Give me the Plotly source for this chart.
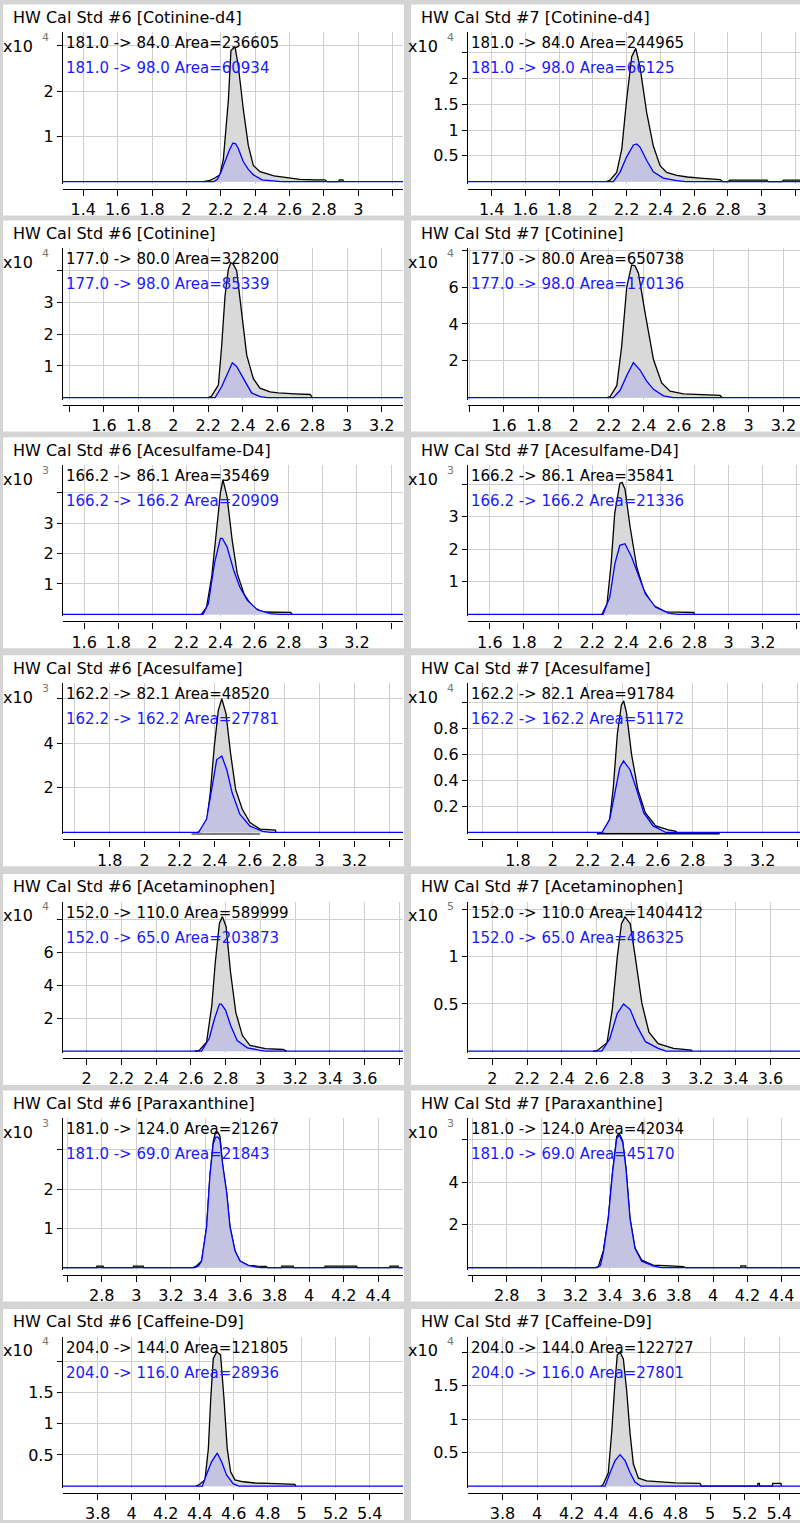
import plotly.graph_objects as go

# ---------------- data (times in min, intensities in displayed units) ----------------
titles = [
    "HW Cal Std #6 [Cotinine-d4]", "HW Cal Std #7 [Cotinine-d4]",
    "HW Cal Std #6 [Cotinine]", "HW Cal Std #7 [Cotinine]",
    "HW Cal Std #6 [Acesulfame-D4]", "HW Cal Std #7 [Acesulfame-D4]",
    "HW Cal Std #6 [Acesulfame]", "HW Cal Std #7 [Acesulfame]",
    "HW Cal Std #6 [Acetaminophen]", "HW Cal Std #7 [Acetaminophen]",
    "HW Cal Std #6 [Paraxanthine]", "HW Cal Std #7 [Paraxanthine]",
    "HW Cal Std #6 [Caffeine-D9]", "HW Cal Std #7 [Caffeine-D9]",
]
labels_black = [
    "181.0 -> 84.0 Area=236605", "181.0 -> 84.0 Area=244965",
    "177.0 -> 80.0 Area=328200", "177.0 -> 80.0 Area=650738",
    "166.2 -> 86.1 Area=35469", "166.2 -> 86.1 Area=35841",
    "162.2 -> 82.1 Area=48520", "162.2 -> 82.1 Area=91784",
    "152.0 -> 110.0 Area=589999", "152.0 -> 110.0 Area=1404412",
    "181.0 -> 124.0 Area=21267", "181.0 -> 124.0 Area=42034",
    "204.0 -> 144.0 Area=121805", "204.0 -> 144.0 Area=122727",
]
labels_blue = [
    "181.0 -> 98.0 Area=60934", "181.0 -> 98.0 Area=66125",
    "177.0 -> 98.0 Area=85339", "177.0 -> 98.0 Area=170136",
    "166.2 -> 166.2 Area=20909", "166.2 -> 166.2 Area=21336",
    "162.2 -> 162.2 Area=27781", "162.2 -> 162.2 Area=51172",
    "152.0 -> 65.0 Area=203873", "152.0 -> 65.0 Area=486325",
    "181.0 -> 69.0 Area=21843", "181.0 -> 69.0 Area=45170",
    "204.0 -> 116.0 Area=28936", "204.0 -> 116.0 Area=27801",
]
exponents = [4, 4, 4, 4, 3, 3, 3, 4, 4, 5, 3, 3, 4, 4]

x_ranges = [
    [1.282, 3.26], [1.26, 3.227],
    [1.364, 3.322], [1.394, 3.295],
    [1.476, 3.47], [1.472, 3.418],
    [1.533, 3.477], [1.515, 3.413],
    [1.864, 3.82], [1.86, 3.77],
    [2.576, 4.543], [2.575, 4.506],
    [3.596, 5.596], [3.601, 5.52],
]
x_ticks = [
    [1.4, 1.6, 1.8, 2.0, 2.2, 2.4, 2.6, 2.8, 3.0, 3.2], [1.4, 1.6, 1.8, 2.0, 2.2, 2.4, 2.6, 2.8, 3.0, 3.2],
    [1.4, 1.6, 1.8, 2.0, 2.2, 2.4, 2.6, 2.8, 3.0, 3.2], [1.4, 1.6, 1.8, 2.0, 2.2, 2.4, 2.6, 2.8, 3.0, 3.2],
    [1.6, 1.8, 2.0, 2.2, 2.4, 2.6, 2.8, 3.0, 3.2, 3.4], [1.6, 1.8, 2.0, 2.2, 2.4, 2.6, 2.8, 3.0, 3.2, 3.4],
    [1.6, 1.8, 2.0, 2.2, 2.4, 2.6, 2.8, 3.0, 3.2, 3.4], [1.6, 1.8, 2.0, 2.2, 2.4, 2.6, 2.8, 3.0, 3.2, 3.4],
    [2.0, 2.2, 2.4, 2.6, 2.8, 3.0, 3.2, 3.4, 3.6, 3.8], [2.0, 2.2, 2.4, 2.6, 2.8, 3.0, 3.2, 3.4, 3.6],
    [2.6, 2.8, 3.0, 3.2, 3.4, 3.6, 3.8, 4.0, 4.2, 4.4], [2.6, 2.8, 3.0, 3.2, 3.4, 3.6, 3.8, 4.0, 4.2, 4.4],
    [3.8, 4.0, 4.2, 4.4, 4.6, 4.8, 5.0, 5.2, 5.4], [3.8, 4.0, 4.2, 4.4, 4.6, 4.8, 5.0, 5.2, 5.4],
]
x_labeled = [
    [1.4, 1.6, 1.8, 2.0, 2.2, 2.4, 2.6, 2.8, 3.0], [1.4, 1.6, 1.8, 2.0, 2.2, 2.4, 2.6, 2.8, 3.0],
    [1.6, 1.8, 2.0, 2.2, 2.4, 2.6, 2.8, 3.0, 3.2], [1.6, 1.8, 2.0, 2.2, 2.4, 2.6, 2.8, 3.0, 3.2],
    [1.6, 1.8, 2.0, 2.2, 2.4, 2.6, 2.8, 3.0, 3.2], [1.6, 1.8, 2.0, 2.2, 2.4, 2.6, 2.8, 3.0, 3.2],
    [1.8, 2.0, 2.2, 2.4, 2.6, 2.8, 3.0, 3.2], [1.8, 2.0, 2.2, 2.4, 2.6, 2.8, 3.0, 3.2],
    [2.0, 2.2, 2.4, 2.6, 2.8, 3.0, 3.2, 3.4, 3.6], [2.0, 2.2, 2.4, 2.6, 2.8, 3.0, 3.2, 3.4, 3.6],
    [2.8, 3.0, 3.2, 3.4, 3.6, 3.8, 4.0, 4.2, 4.4], [2.8, 3.0, 3.2, 3.4, 3.6, 3.8, 4.0, 4.2, 4.4],
    [3.8, 4.0, 4.2, 4.4, 4.6, 4.8, 5.0, 5.2, 5.4], [3.8, 4.0, 4.2, 4.4, 4.6, 4.8, 5.0, 5.2, 5.4],
]
y_max = [3.3, 2.89, 4.7, 8.1, 4.9, 4.58, 6.7, 1.147, 9.1, 1.58, 3.8, 6.98, 2.39, 2.23]
y_ticks = [
    [1, 2, 3], [0.5, 1, 1.5, 2, 2.5],
    [1, 2, 3, 4], [2, 4, 6, 8],
    [1, 2, 3, 4], [1, 2, 3, 4],
    [2, 4, 6], [0.2, 0.4, 0.6, 0.8, 1.0],
    [2, 4, 6, 8], [0.5, 1, 1.5],
    [1, 2, 3], [2, 4, 6],
    [0.5, 1, 1.5, 2], [0.5, 1, 1.5, 2],
]
y_labeled = [
    [1, 2], [0.5, 1, 1.5, 2],
    [1, 2, 3], [2, 4, 6],
    [1, 2, 3], [1, 2, 3],
    [2, 4], [0.2, 0.4, 0.6, 0.8],
    [2, 4, 6], [0.5, 1],
    [1, 2], [2, 4],
    [0.5, 1, 1.5], [0.5, 1, 1.5],
]

# Cotinine-d4 #6
cotd4_6_black_t = [2.10, 2.137, 2.165, 2.195, 2.215, 2.244, 2.259, 2.283, 2.302, 2.331, 2.36, 2.389, 2.428, 2.467, 2.51, 2.564, 2.61, 2.66, 2.75, 2.806, 2.82, 2.885, 2.89, 2.91, 2.915]
cotd4_6_black_y = [0, 0.03, 0.08, 0.15, 0.5, 1.8, 2.9, 2.98, 2.55, 1.6, 0.8, 0.36, 0.22, 0.17, 0.13, 0.1, 0.07, 0.05, 0.04, 0.04, 0, 0, 0.04, 0.04, 0]
cotd4_6_blue_t = [1.28, 2.16, 2.18, 2.20, 2.22, 2.25, 2.27, 2.285, 2.30, 2.33, 2.36, 2.39, 2.44, 2.50, 2.55, 3.26]
cotd4_6_blue_y = [0, 0, 0.05, 0.2, 0.4, 0.7, 0.85, 0.84, 0.75, 0.45, 0.27, 0.15, 0.04, 0.01, 0, 0]
# Cotinine-d4 #7
cotd4_7_black_t = [2.08, 2.101, 2.141, 2.171, 2.20, 2.23, 2.254, 2.279, 2.319, 2.358, 2.398, 2.437, 2.497, 2.56, 2.635, 2.70, 2.753, 2.77, 2.80, 2.81, 3.03, 3.04, 3.12, 3.13, 3.23]
cotd4_7_black_y = [0, 0.03, 0.18, 0.63, 1.59, 2.42, 2.58, 2.22, 1.33, 0.69, 0.31, 0.18, 0.12, 0.09, 0.07, 0.05, 0.04, 0, 0, 0.03, 0.03, 0, 0, 0.03, 0.03]
cotd4_7_blue_t = [1.26, 2.121, 2.16, 2.20, 2.24, 2.26, 2.279, 2.319, 2.358, 2.417, 2.497, 2.55, 3.23]
cotd4_7_blue_y = [0, 0, 0.18, 0.48, 0.71, 0.73, 0.67, 0.41, 0.19, 0.07, 0.02, 0, 0]
# Cotinine #6
cot_6_black_t = [2.20, 2.22, 2.259, 2.278, 2.297, 2.316, 2.33, 2.345, 2.364, 2.393, 2.422, 2.46, 2.498, 2.556, 2.604, 2.70, 2.787, 2.80]
cot_6_black_y = [0, 0.05, 0.4, 1.65, 3.2, 4.04, 4.25, 4.2, 4.0, 2.7, 1.34, 0.6, 0.3, 0.18, 0.15, 0.12, 0.1, 0]
cot_6_blue_t = [1.36, 2.24, 2.278, 2.316, 2.339, 2.364, 2.402, 2.45, 2.50, 2.54, 3.33]
cot_6_blue_y = [0, 0, 0.35, 0.8, 1.1, 0.98, 0.6, 0.15, 0.03, 0, 0]
# Cotinine #7
cot_7_black_t = [2.19, 2.207, 2.246, 2.274, 2.303, 2.331, 2.35, 2.37, 2.408, 2.456, 2.503, 2.551, 2.627, 2.75, 2.837, 2.85]
cot_7_black_y = [0, 0.05, 0.65, 2.8, 6.0, 7.2, 7.15, 6.75, 4.6, 2.07, 0.8, 0.35, 0.2, 0.15, 0.12, 0]
cot_7_blue_t = [1.39, 2.226, 2.265, 2.303, 2.341, 2.379, 2.417, 2.456, 2.513, 2.57, 3.30]
cot_7_blue_y = [0, 0, 0.4, 1.2, 1.9, 1.5, 0.9, 0.45, 0.1, 0, 0]
# Acesulfame-D4 #6
acsd4_6_black_t = [2.288, 2.318, 2.348, 2.378, 2.399, 2.414, 2.438, 2.468, 2.498, 2.537, 2.588, 2.648, 2.75, 2.812, 2.82]
acsd4_6_black_y = [0, 0.24, 1.23, 2.77, 3.98, 4.42, 3.87, 2.44, 1.34, 0.68, 0.24, 0.08, 0.07, 0.07, 0]
acsd4_6_blue_t = [1.47, 2.297, 2.328, 2.364, 2.399, 2.41, 2.438, 2.477, 2.513, 2.557, 2.618, 2.692, 2.75, 3.48]
acsd4_6_blue_y = [0, 0, 0.35, 1.67, 2.5, 2.5, 2.22, 1.45, 0.9, 0.46, 0.15, 0.03, 0, 0]
# Acesulfame-D4 #7
acsd4_7_black_t = [2.257, 2.287, 2.311, 2.332, 2.362, 2.375, 2.392, 2.422, 2.461, 2.503, 2.557, 2.631, 2.70, 2.796, 2.80]
acsd4_7_black_y = [0, 0.33, 1.56, 3.1, 4.02, 4.05, 3.85, 2.69, 1.46, 0.74, 0.28, 0.08, 0.07, 0.06, 0]
acsd4_7_blue_t = [1.47, 2.263, 2.303, 2.333, 2.362, 2.392, 2.431, 2.467, 2.512, 2.572, 2.647, 2.70, 3.45]
acsd4_7_blue_y = [0, 0, 0.53, 1.56, 2.12, 2.17, 1.76, 1.25, 0.63, 0.22, 0.04, 0, 0]
# Acesulfame #6
acs_6_black_t = [2.30, 2.325, 2.354, 2.375, 2.398, 2.421, 2.441, 2.465, 2.491, 2.52, 2.558, 2.602, 2.66, 2.748, 2.75]
acs_6_black_y = [0, 0.05, 0.44, 1.78, 3.85, 5.48, 6.0, 5.33, 3.56, 1.93, 1.04, 0.44, 0.15, 0.1, 0]
acs_6_blue_t = [1.53, 2.308, 2.354, 2.383, 2.412, 2.441, 2.47, 2.5, 2.544, 2.602, 2.675, 2.72, 3.48]
acs_6_blue_y = [0, 0, 0.6, 1.94, 3.27, 3.43, 2.8, 1.78, 0.82, 0.28, 0.05, 0, 0]
acs_6_base_t = [2.268, 2.66]
acs_6_base_y = [-0.1, -0.1]
# Acesulfame #7
acs_7_black_t = [2.28, 2.296, 2.325, 2.346, 2.369, 2.392, 2.405, 2.421, 2.45, 2.486, 2.529, 2.588, 2.661, 2.70, 2.71]
acs_7_black_y = [0, 0.005, 0.1, 0.35, 0.76, 0.98, 1.01, 0.92, 0.6, 0.33, 0.15, 0.05, 0.02, 0.01, 0]
acs_7_blue_t = [1.51, 2.281, 2.325, 2.354, 2.383, 2.404, 2.442, 2.479, 2.52, 2.573, 2.646, 3.45]
acs_7_blue_y = [0, 0, 0.1, 0.3, 0.5, 0.55, 0.48, 0.33, 0.15, 0.05, 0, 0]
acs_7_base_t = [2.252, 2.954]
acs_7_base_y = [-0.012, -0.012]
# Acetaminophen #6
apap_6_black_t = [2.62, 2.646, 2.69, 2.72, 2.74, 2.764, 2.781, 2.802, 2.828, 2.858, 2.896, 2.94, 3.028, 3.131, 3.15]
apap_6_black_y = [0, 0.03, 0.55, 2.77, 5.4, 7.8, 8.2, 7.6, 4.8, 2.36, 0.95, 0.35, 0.15, 0.1, 0]
apap_6_blue_t = [1.86, 2.661, 2.705, 2.735, 2.764, 2.775, 2.799, 2.829, 2.866, 2.925, 2.999, 3.03, 3.82]
apap_6_blue_y = [0, 0, 0.77, 1.96, 2.87, 2.87, 2.5, 1.55, 0.65, 0.2, 0.05, 0, 0]
# Acetaminophen #7
apap_7_black_t = [2.58, 2.602, 2.66, 2.69, 2.719, 2.743, 2.763, 2.793, 2.822, 2.86, 2.901, 2.954, 3.042, 3.145, 3.15]
apap_7_black_y = [0, 0.005, 0.09, 0.44, 1.0, 1.35, 1.42, 1.35, 1.0, 0.51, 0.2, 0.08, 0.03, 0.01, 0]
apap_7_blue_t = [1.86, 2.63, 2.675, 2.719, 2.755, 2.793, 2.831, 2.881, 2.954, 3.0, 3.8]
apap_7_blue_y = [0, 0, 0.13, 0.4, 0.5, 0.44, 0.27, 0.1, 0.03, 0, 0]
# Paraxanthine #6
para_6_black_t = [2.576, 2.77, 2.772, 2.808, 2.81, 2.982, 2.984, 3.04, 3.042, 3.33, 3.349, 3.378, 3.407, 3.426, 3.445, 3.458, 3.472, 3.484, 3.5, 3.523, 3.542, 3.571, 3.6, 3.648, 3.70, 3.75, 3.76, 3.84, 3.842, 3.908, 3.91, 4.09, 4.092, 4.275, 4.277, 4.466, 4.468, 4.515, 4.517, 4.54]
para_6_black_y = [0, 0, 0.04, 0.04, 0, 0, 0.04, 0.04, 0, 0, 0.05, 0.17, 1.04, 2.34, 3.2, 3.45, 3.45, 3.35, 2.6, 1.9, 1.04, 0.43, 0.17, 0.06, 0.04, 0.03, 0, 0, 0.04, 0.04, 0, 0, 0.04, 0.04, 0, 0, 0.04, 0.04, 0, 0]
para_6_blue_t = [2.576, 3.34, 3.36, 3.378, 3.407, 3.426, 3.445, 3.458, 3.472, 3.484, 3.5, 3.523, 3.542, 3.571, 3.6, 3.648, 3.69, 3.72, 4.54]
para_6_blue_y = [0, 0, 0.05, 0.17, 1.04, 2.34, 3.15, 3.32, 3.32, 3.25, 2.6, 1.9, 1.04, 0.43, 0.17, 0.06, 0.02, 0, 0]
# Paraxanthine #7
para_7_black_t = [2.575, 3.315, 3.333, 3.362, 3.391, 3.416, 3.44, 3.455, 3.475, 3.494, 3.517, 3.546, 3.585, 3.652, 3.75, 3.827, 3.84, 4.16, 4.162, 4.19, 4.192, 4.54]
para_7_black_y = [0, 0, 0.05, 0.78, 2.33, 4.5, 6.13, 6.3, 5.9, 4.65, 2.33, 0.93, 0.35, 0.12, 0.08, 0.05, 0, 0, 0.08, 0.08, 0, 0]
para_7_blue_t = [2.575, 3.325, 3.345, 3.362, 3.391, 3.416, 3.44, 3.455, 3.475, 3.494, 3.517, 3.546, 3.585, 3.652, 3.70, 4.54]
para_7_blue_y = [0, 0, 0.1, 0.7, 2.3, 4.45, 6.05, 6.2, 5.85, 4.6, 2.3, 0.9, 0.3, 0.08, 0, 0]
# Caffeine-D9 #6
caf_6_black_t = [4.38, 4.40, 4.431, 4.451, 4.465, 4.48, 4.50, 4.523, 4.543, 4.562, 4.582, 4.607, 4.656, 4.725, 4.85, 4.96, 4.965]
caf_6_black_y = [0, 0.03, 0.1, 0.6, 1.4, 2.04, 2.15, 2.1, 1.4, 0.6, 0.23, 0.1, 0.07, 0.05, 0.04, 0.03, 0]
caf_6_blue_t = [3.59, 4.416, 4.439, 4.47, 4.503, 4.529, 4.558, 4.597, 4.63, 5.6]
caf_6_blue_y = [0, 0, 0.18, 0.39, 0.53, 0.39, 0.18, 0.04, 0, 0]
# Caffeine-D9 #7
caf_7_black_t = [4.37, 4.383, 4.412, 4.432, 4.451, 4.464, 4.48, 4.499, 4.518, 4.538, 4.557, 4.586, 4.634, 4.692, 4.8, 4.942, 4.95, 5.275, 5.277, 5.285, 5.287, 5.36, 5.362, 5.41, 5.412]
caf_7_black_y = [0, 0.03, 0.2, 0.82, 1.57, 1.96, 2.0, 1.9, 1.43, 0.78, 0.33, 0.12, 0.08, 0.07, 0.05, 0.04, 0, 0, 0.04, 0.04, 0, 0, 0.04, 0.04, 0]
caf_7_blue_t = [3.6, 4.393, 4.422, 4.451, 4.48, 4.509, 4.538, 4.566, 4.60, 5.6]
caf_7_blue_y = [0, 0, 0.2, 0.38, 0.47, 0.38, 0.2, 0.06, 0, 0]

black_series = [
    (cotd4_6_black_t, cotd4_6_black_y), (cotd4_7_black_t, cotd4_7_black_y),
    (cot_6_black_t, cot_6_black_y), (cot_7_black_t, cot_7_black_y),
    (acsd4_6_black_t, acsd4_6_black_y), (acsd4_7_black_t, acsd4_7_black_y),
    (acs_6_black_t, acs_6_black_y), (acs_7_black_t, acs_7_black_y),
    (apap_6_black_t, apap_6_black_y), (apap_7_black_t, apap_7_black_y),
    (para_6_black_t, para_6_black_y), (para_7_black_t, para_7_black_y),
    (caf_6_black_t, caf_6_black_y), (caf_7_black_t, caf_7_black_y),
]
blue_series = [
    (cotd4_6_blue_t, cotd4_6_blue_y), (cotd4_7_blue_t, cotd4_7_blue_y),
    (cot_6_blue_t, cot_6_blue_y), (cot_7_blue_t, cot_7_blue_y),
    (acsd4_6_blue_t, acsd4_6_blue_y), (acsd4_7_blue_t, acsd4_7_blue_y),
    (acs_6_blue_t, acs_6_blue_y), (acs_7_blue_t, acs_7_blue_y),
    (apap_6_blue_t, apap_6_blue_y), (apap_7_blue_t, apap_7_blue_y),
    (para_6_blue_t, para_6_blue_y), (para_7_blue_t, para_7_blue_y),
    (caf_6_blue_t, caf_6_blue_y), (caf_7_blue_t, caf_7_blue_y),
]
base_series = {6: (acs_6_base_t, acs_6_base_y), 7: (acs_7_base_t, acs_7_base_y)}

# ---------------- layout geometry (pixels) ----------------
W, H = 800, 1523
baselines = [182.5, 399.5, 617.3, 836.3, 1056.0, 1273.5, 1493.0]
plot_h = 150
col_axis_x = [63, 468]
col_plot_right = [403, 800]
col_panel = [(3, 404), (411, 800)]
FONT = "DejaVu Sans"
GRID = "#cfcfcf"
BG = "#d4d4d4"


def px(x):
    return x / W


def py(y):
    return 1 - y / H


def fmt(v):
    return f"{v:g}"


fig = go.Figure()
annotations = []
shapes = []
layout_axes = {}

for i in range(14):
    row, col = divmod(i, 2)
    b = baselines[row]
    n = i + 1
    xname = "x" if n == 1 else f"x{n}"
    yname = "y" if n == 1 else f"y{n}"
    xkey = "xaxis" if n == 1 else f"xaxis{n}"
    ykey = "yaxis" if n == 1 else f"yaxis{n}"

    # white panel background
    x0p, x1p = col_panel[col]
    shapes.append(dict(type="rect", xref="paper", yref="paper", layer="below",
                       x0=px(x0p), x1=px(x1p), y0=py(b + 34), y1=py(b - 178),
                       fillcolor="white", line=dict(width=0)))

    ymax = y_max[i]
    ymin = -ymax * 2.0 / plot_h

    bt, by = black_series[i]
    fig.add_trace(go.Scatter(x=bt, y=by, xaxis=xname, yaxis=yname, mode="lines",
                             line=dict(color="black", width=1.3), fill="tozeroy",
                             fillcolor="#d9d9d9", hoverinfo="skip", showlegend=False))
    if i in base_series:
        st, sy = base_series[i]
        fig.add_trace(go.Scatter(x=st, y=sy, xaxis=xname, yaxis=yname, mode="lines",
                                 line=dict(color="black", width=2.5), hoverinfo="skip",
                                 showlegend=False))
    ut, uy = blue_series[i]
    fig.add_trace(go.Scatter(x=ut, y=uy, xaxis=xname, yaxis=yname, mode="lines",
                             line=dict(color="#0000ff", width=1.3), fill="tozeroy",
                             fillcolor="#c4c4e2", hoverinfo="skip", showlegend=False))

    ax_x = col_axis_x[col]
    layout_axes[xkey] = dict(
        domain=[px(ax_x), px(col_plot_right[col])], range=x_ranges[i],
        anchor="free", position=py(b + 7),
        showline=True, linecolor="black", linewidth=1.3,
        ticks="outside", ticklen=6, tickcolor="black", tickwidth=1,
        tickvals=x_ticks[i],
        ticktext=[fmt(v) if v in x_labeled[i] else "" for v in x_ticks[i]],
        tickfont=dict(family=FONT, size=16, color="black"),
        showgrid=True, gridcolor=GRID, gridwidth=1, zeroline=False, fixedrange=True,
    )
    layout_axes[ykey] = dict(
        domain=[py(b + 2), py(b - plot_h)], range=[ymin, ymax], anchor=xname,
        showline=True, linecolor="black", linewidth=1.3,
        ticks="outside", ticklen=5, tickcolor="black", tickwidth=1,
        tickvals=y_ticks[i],
        ticktext=[fmt(v) if v in y_labeled[i] else "" for v in y_ticks[i]],
        tickfont=dict(family=FONT, size=16, color="black"),
        showgrid=True, gridcolor=GRID, gridwidth=1, zeroline=False, fixedrange=True,
    )

    # title
    annotations.append(dict(xref="paper", yref="paper", x=px(x0p + 8), y=py(b - 165),
                            xanchor="left", yanchor="middle", showarrow=False,
                            text=titles[i], font=dict(family=FONT, size=16, color="black")))
    # exponent label
    annotations.append(dict(xref="paper", yref="paper", x=px(ax_x - 28), y=py(b - 136),
                            xanchor="right", yanchor="middle", showarrow=False,
                            text="x10", font=dict(family=FONT, size=16, color="black")))
    annotations.append(dict(xref="paper", yref="paper", x=px(ax_x - 23), y=py(b - 145),
                            xanchor="left", yanchor="middle", showarrow=False,
                            text=str(exponents[i]), font=dict(family=FONT, size=11, color="#777777")))
    # transition labels
    annotations.append(dict(xref="paper", yref="paper", x=px(ax_x + 1), y=py(b - 139),
                            xanchor="left", yanchor="middle", showarrow=False,
                            text=labels_black[i], font=dict(family=FONT, size=15, color="black")))
    annotations.append(dict(xref="paper", yref="paper", x=px(ax_x + 1), y=py(b - 114),
                            xanchor="left", yanchor="middle", showarrow=False,
                            text=labels_blue[i], font=dict(family=FONT, size=15, color="#1a1aff")))

fig.update_layout(
    width=W, height=H, margin=dict(l=0, r=0, t=0, b=0),
    paper_bgcolor=BG, plot_bgcolor="white",
    showlegend=False, hovermode=False,
    annotations=annotations, shapes=shapes,
    **layout_axes,
)
fig.write_html("out.html")
